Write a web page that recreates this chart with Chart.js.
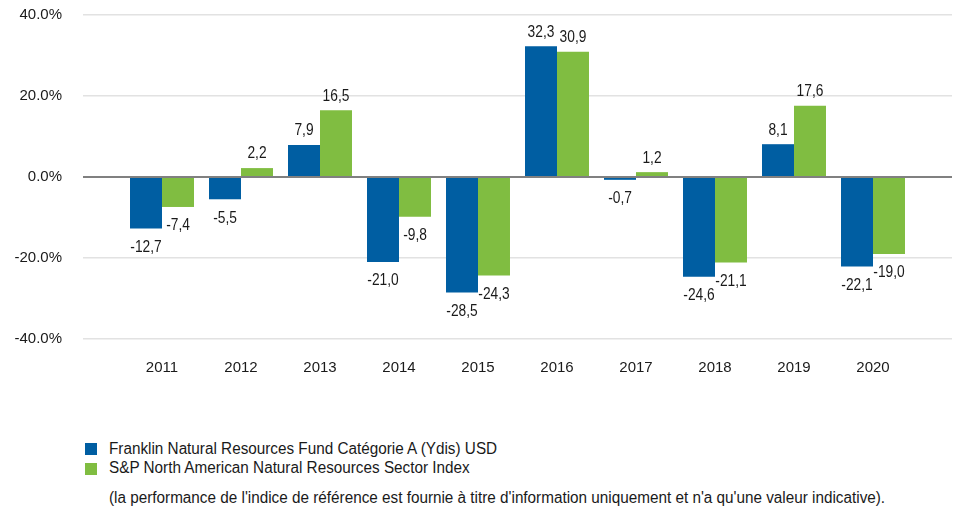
<!DOCTYPE html>
<html>
<head>
<meta charset="utf-8">
<script src="https://cdn.jsdelivr.net/npm/chart.js@4.4.1/dist/chart.umd.min.js"></script>
<style>
  body { margin: 0; background: #fff; }
  #wrap { position: relative; width: 964px; height: 507px; overflow: hidden; font-family: "Liberation Sans", Arial, sans-serif; color: #1a1a1a; }
  #chart { position: absolute; left: 0; top: 0; }
  .leg { position: absolute; left: 109px; font-size: 16px; line-height: 18px; white-space: nowrap; transform: scaleX(0.955); transform-origin: left top; }
  .sq { position: absolute; left: 85px; width: 12px; height: 12px; }
</style>
</head>
<body>
<div id="wrap">
  <canvas id="chart" width="964" height="380"></canvas>
  <div class="sq" style="top:443px;background:#005ea2"></div>
  <div class="leg" style="top:440px">Franklin Natural Resources Fund Catégorie A (Ydis) USD</div>
  <div class="sq" style="top:463px;background:#80bd41"></div>
  <div class="leg" style="top:459px">S&amp;P North American Natural Resources Sector Index</div>
  <div class="leg" style="top:489px">(la performance de l'indice de référence est fournie à titre d'information uniquement et n'a qu'une valeur indicative).</div>
</div>
<script>
// years shown on the x axis (empty slots at both ends keep the spacing of the original)
const years = ['', '2011', '2012', '2013', '2014', '2015', '2016', '2017', '2018', '2019', '2020', ''];
// annual performance in %
const fundValues = [null, -12.7, -5.5, 7.9, -21.0, -28.5, 32.3, -0.7, -24.6, 8.1, -22.1, null];
const indexValues = [null, -7.4, 2.2, 16.5, -9.8, -24.3, 30.9, 1.2, -21.1, 17.6, -19.0, null];
const fundName = 'Franklin Natural Resources Fund Catégorie A (Ydis) USD';
const indexName = 'S&P North American Natural Resources Sector Index';
const yTicks = [-40, -20, 0, 20, 40];

const fontFamily = '"Liberation Sans", Arial, sans-serif';

// writes the value above or below each bar, french decimal comma
const barLabels = {
    id: 'barLabels',
    afterDatasetsDraw(chart) {
        const c = chart.ctx;
        chart.data.datasets.forEach((ds, i) => {
            chart.getDatasetMeta(i).data.forEach((bar, j) => {
                const v = ds.data[j];
                if (v === null) return;
                const txt = v.toFixed(1).replace('.', ',');
                c.save();
                c.font = '16px ' + fontFamily;
                c.fillStyle = '#1a1a1a';
                c.textAlign = 'center';
                if (v >= 0) {
                    c.textBaseline = 'bottom';
                    c.translate(bar.x, bar.y - 6);
                } else {
                    c.textBaseline = 'top';
                    c.translate(bar.x, bar.y + 11);
                }
                // narrow the glyphs a little, like the original condensed font
                c.scale(0.86, 1);
                c.fillText(txt, 0, 0);
                c.restore();
            });
        });
    }
};

const ctx = document.getElementById('chart').getContext('2d');
const myChart = new Chart(ctx, {
    type: 'bar',
    data: {
        labels: years,
        datasets: [{
            label: fundName,
            data: fundValues,
            backgroundColor: '#005ea2'
        }, {
            label: indexName,
            data: indexValues,
            backgroundColor: '#80bd41'
        }]
    },
    options: {
        responsive: false,
        animation: false,
        layout: { padding: { top: 15, left: 0, right: 0, bottom: 0 } },
        datasets: { bar: { barPercentage: 1, categoryPercentage: 0.81 } },
        plugins: { legend: { display: false }, tooltip: { enabled: false } },
        scales: {
            x: {
                offset: false,
                grid: { display: false },
                border: { display: false },
                ticks: { color: '#1a1a1a', font: { family: fontFamily, size: 15 }, padding: 12, maxRotation: 0, autoSkip: false },
                afterFit(scale) { scale.height = 41; }
            },
            y: {
                min: -40,
                max: 40,
                border: { display: false },
                grid: {
                    // invisible tick marks give the gap between labels and plot
                    // (ticks.padding would also push the plot area down)
                    drawTicks: true,
                    tickLength: 21,
                    tickColor: 'rgba(0,0,0,0)',
                    color: c => c.tick.value === 0 ? '#808080' : '#e2e2e2',
                    lineWidth: c => c.tick.value === 0 ? 2 : 1.5
                },
                afterBuildTicks(scale) { scale.ticks = yTicks.map(v => ({ value: v })); },
                ticks: {
                    color: '#1a1a1a',
                    font: { family: fontFamily, size: 15 },
                    padding: 0,
                    callback: v => v.toFixed(1) + '%'
                },
                afterFit(scale) { scale.width = 83; }
            }
        }
    },
    plugins: [barLabels]
});
</script>
</body>
</html>
